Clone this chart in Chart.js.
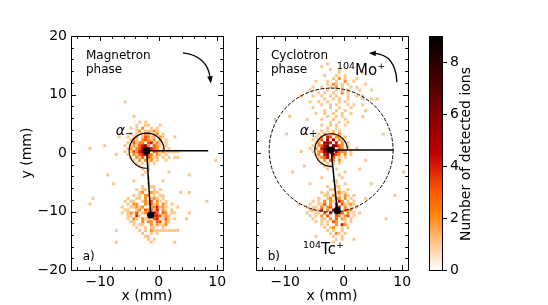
<!DOCTYPE html>
<html><head><meta charset="utf-8">
<script src="https://cdn.jsdelivr.net/npm/chart.js@4"></script>
<style>
html,body{margin:0;padding:0;background:#fff;width:548px;height:305px;overflow:hidden;position:relative}
canvas{position:absolute;top:0}
</style></head><body>
<canvas id="ca" width="240" height="305" style="left:0px"></canvas>
<canvas id="cb" width="184" height="305" style="left:236px"></canvas>
<canvas id="cc" width="128" height="305" style="left:420px"></canvas>
<script>
const FONT = '"DejaVu Sans", sans-serif';
const BIN = 0.5;
const VMAX = 9;
const X_RANGE = [-15, 11];
const Y_RANGE = [-20, 20];
const X_MAJOR = [-10, 0, 10];
const Y_MAJOR = [-20, -10, 0, 10, 20];
const CB_TICKS = [0, 2, 4, 6, 8];

// ---------- panel a (magnetron phase) ----------
const aCoreOrigin = [-6.5, 5.5];
const aCoreRows = [
  "......1.1...........",
  ".....1..11..........",
  "...1.1.2..1.1.......",
  ".....12.11121.......",
  "...1.1.122.12.1.....",
  "..1.12.13211.21.....",
  "...121.23212.2.1....",
  "..1.3122.34121.1....",
  ".1.1213452.321.1....",
  "..12.23565432.1.1...",
  ".1.1324687.321211111",
  "..1.2134532.21.1....",
  "...1.213.3211.1.1.11",
  "....1.2.212.1..1....",
  ".....1.1.1.1........",
  "......1..1..........",
  ".......1.1..........",
  "........1..........."
];
const aSpotOrigin = [-7.0, -5.0];
const aSpotRows = [
  "..........1..........",
  "........1..11........",
  "......1.11..1.1......",
  ".......12..211.......",
  ".....1.1.22.1.11.....",
  "...1..11.2.121.1.....",
  "..1.11..1213.21.1....",
  "...1.22..21312.21.1..",
  ".1..11212..224121....",
  "..11..12.32314.21.1..",
  ".1.1213.122.53.32.11.",
  "...11.41..22443121...",
  "...1.21.211.34.131.1.",
  "....11..2.22.33.21...",
  ".....1.11..2.2112....",
  "......1..1.11..1.....",
  ".......1.1.2111111111",
  "........1..1.1.......",
  ".........11..........",
  "..........1.1........",
  "...........1........."
];
const aStray = [
  [-5.9, 8.7, 1], [-11.9, 0.5, 1], [-9.5, 1.3, 1], [9.8, -1.1, 1], [-7.5, -0.3, 1],
  [-8.6, -3.6, 1], [-7.9, -5.5, 1], [-11.2, -8.0, 1], [-12.0, -8.7, 1], [8.2, -8.5, 1],
  [5.2, -6.9, 1], [-7.5, -13.3, 1], [-7.5, -15.2, 1], [2.8, -15.2, 1], [5.1, -3.6, 1],
  [3.8, -6.6, 1], [5.3, -10.3, 1], [4.8, -11.5, 1], [-2.6, -3.9, 1], [-1.6, -4.4, 1],
  [0.6, -4.6, 1], [-4.3, -4.9, 1], [1.6, -3.3, 1], [3.2, -9.4, 1], [-6.9, 2.7, 1],
  [-4.1, 6.2, 1], [0.3, 4.7, 1], [2.7, 2.6, 1]
];
const aCentre = [-2.06, 0.4];
const aSpot = [-1.38, -10.6];
const aRefEnd = [8.47, 0.4];
const aArcRadius = 3.0;

// ---------- panel b (cyclotron phase) ----------
const bCoreOrigin = [-6.5, 4.5];
const bCoreRows = [
  ".......1..1........",
  ".....1.1.1.1.......",
  "....1.2.12.2.......",
  "...1.2.43.22.1.....",
  "..1.13.5.5.21......",
  "...12.564.4.2.1....",
  "..1.2357.6532.1....",
  ".1.2.46885.32.1..1.",
  "..1.23679.5322.1...",
  "...12.45.532.2.1...",
  "....1235.3.1.1.....",
  "....1.2.32.2.......",
  ".....1.1.1.1.......",
  "......1.1..........",
  ".......1..1........"
];
const bMoOrigin = [-7.0, 15.5];
const bMoRows = [
  "........1...............",
  "......1.................",
  ".........1..1...........",
  "............1.......1...",
  ".......1...1..1.........",
  "..........1.2.1...1.....",
  "....1...1..1..2..1......",
  "........1.21.1.1.....1..",
  "...1..1..1.2.1..1.1.....",
  "..1.....1..1.1.1...1...1",
  ".....1.1..1..2.1........",
  "...1..1..1.1...1..1.1...",
  ".......1..1.1..1....1..1",
  "..1..1..1...1.1.........",
  "......1..1.1...1.1..1...",
  "...1.....1..1...1.......",
  ".......1...1..1......1..",
  "....1..1..1..1..1.......",
  "........1..1.1......1...",
  ".1....1...1...1.........",
  ".........1..1..1........",
  "......1..1.1..1........."
];
const bSpotOrigin = [-7.0, -4.0];
const bSpotRows = [
  ".............1........",
  "..........1...........",
  "...........1..1.......",
  "........1..11.........",
  ".........11.1..1......",
  "......1.1..1211.......",
  ".......11.2.1.21.1....",
  ".....1..12.22.2.1.....",
  "...1.1.2.21.42.1.1....",
  "..1..113.2.4.31121....",
  ".1.11.2.23.44.2.1.1...",
  "..12.14.2.55..322.....",
  ".1..11.3.4.543.2.1.1..",
  "..1.1.2.3..32.23.1....",
  "...1..11.2.3.21.1.....",
  "....1.1.1.32..1.1.....",
  "......1.1..2.42.......",
  ".......1.12..1.1......",
  "........1.1..1........",
  ".........1.21.1.......",
  "..........1..1........",
  "...........1.1........",
  "..........1..........."
];
const bStray = [
  [-12.0, 5.6, 1], [-10.0, 3.1, 1], [-7.3, 0.0, 1], [10.1, -3.2, 1], [8.5, -7.5, 1],
  [-8.9, -3.2, 1], [4.8, -5.5, 1], [-6.6, -2.4, 1], [-5.6, -5.4, 1], [2.6, -2.9, 1],
  [3.6, -1.4, 1], [-7.5, 9.6, 1], [6.8, 3.2, 1], [-7.9, -8.8, 1], [3.6, -7.9, 1],
  [-0.9, -3.8, 1], [-1.4, -4.6, 1], [0.2, -3.4, 1], [-3.6, -4.2, 1], [5.6, 9.1, 1],
  [-9.3, 6.2, 1], [7.3, -11.3, 1], [-4.7, -14.3, 1], [1.9, -14.8, 1]
];
const bCentre = [-2.15, 0.5];
const bSpot = [-1.1, -9.86];
const bRefEnd = [8.55, 0.5];
const bArcRadius = 2.8;
const bRingRadius = 10.6;

// ---------- helpers ----------
function cmap(v) { // matplotlib gist_heat_r, vmin 0, vmax VMAX
  const t = 1 - Math.max(0, Math.min(v, VMAX)) / VMAX;
  const cl = z => Math.max(0, Math.min(1, z));
  return 'rgb(' + Math.round(cl(1.5 * t) * 255) + ',' + Math.round(cl(2 * t - 1) * 255) + ',' + Math.round(cl(4 * t - 3) * 255) + ')';
}
function patchCells(origin, rows) {
  const out = [];
  rows.forEach((row, r) => {
    for (let c = 0; c < row.length; c++) {
      const ch = row[c];
      if (ch !== '.') out.push({x: origin[0] + BIN * (c + 0.5), y: origin[1] - BIN * (r + 0.5), n: Number(ch)});
    }
  });
  return out;
}
function strayCells(list) {
  return list.map(([x, y, n]) => ({x: (Math.floor(x / BIN) + 0.5) * BIN, y: (Math.floor(y / BIN) + 0.5) * BIN, n}));
}
const P = a => ({x: a[0], y: a[1]});
const fmt = v => String(v).replace('-', '\u2212');

const DECOR = {
  ca: {
    centre: aCentre, spot: aSpot, arcR: aArcRadius, ring: null,
    arrow: {from: [4.15, 17.1], ctrl: [8.3, 16.6], to: [8.93, 11.9]},
    texts: [
      {at: [-12.44, 16.15], parts: [{t: 'Magnetron', s: 12}]},
      {at: [-12.44, 13.76], parts: [{t: 'phase', s: 12}]},
      {at: [-13.0, -18.3], parts: [{t: 'a)', s: 12}]},
      {at: [-7.35, 3.08], parts: [{t: '\u03b1', s: 14, it: true}, {t: '\u2212', s: 10, dy: 2}]}
    ]
  },
  cb: {
    centre: bCentre, spot: bSpot, arcR: bArcRadius, ring: bRingRadius,
    arrow: {from: [9.1, 12.1], ctrl: [8.9, 16.8], to: [4.3, 17.1]},
    texts: [
      {at: [-12.44, 16.15], parts: [{t: 'Cyclotron', s: 12}]},
      {at: [-12.44, 13.76], parts: [{t: 'phase', s: 12}]},
      {at: [-13.0, -18.3], parts: [{t: 'b)', s: 12}]},
      {at: [-7.5, 3.08], parts: [{t: '\u03b1', s: 14, it: true}, {t: '+', s: 10, dy: 2}]},
      {at: [-1.15, 13.33], parts: [{t: '104', s: 9.5, dy: -6}, {t: 'Mo', s: 15}, {t: '+', s: 9.5, dy: -6}]},
      {at: [-6.97, -17.26], parts: [{t: '104', s: 9.5, dy: -6}, {t: 'Tc', s: 15}, {t: '+', s: 9.5, dy: -6}]}
    ]
  }
};

const panelDecor = {
  id: 'panelDecor',
  afterDraw(chart) {
    const d = DECOR[chart.canvas.id];
    if (!d) return;
    const {ctx, chartArea: a, scales: {x, y}} = chart;
    const px = p => ({x: x.getPixelForValue(p[0]), y: y.getPixelForValue(p[1])});
    const unit = Math.abs(x.getPixelForValue(1) - x.getPixelForValue(0));
    ctx.save();
    ctx.strokeStyle = '#000'; ctx.fillStyle = '#000';
    const c = px(d.centre), s = px(d.spot);
    if (d.ring) {
      ctx.save(); ctx.setLineDash([3.7, 1.6]); ctx.lineWidth = 1;
      ctx.beginPath(); ctx.arc(c.x, c.y, d.ring * unit, 0, Math.PI * 2); ctx.stroke(); ctx.restore();
    }
    const phi = Math.atan2(s.y - c.y, s.x - c.x);
    ctx.lineWidth = 1.1;
    ctx.beginPath(); ctx.arc(c.x, c.y, d.arcR * unit, 0, phi, true); ctx.stroke();
    const p0 = px(d.arrow.from), pc = px(d.arrow.ctrl), p1 = px(d.arrow.to);
    let dx = p1.x - pc.x, dy = p1.y - pc.y; const L = Math.hypot(dx, dy); dx /= L; dy /= L;
    const hl = 7, hw = 2.8;
    const base = {x: p1.x - dx * hl * 0.8, y: p1.y - dy * hl * 0.8};
    ctx.lineWidth = 1.3;
    ctx.beginPath(); ctx.moveTo(p0.x, p0.y); ctx.quadraticCurveTo(pc.x, pc.y, base.x, base.y); ctx.stroke();
    ctx.beginPath();
    ctx.moveTo(p1.x, p1.y);
    ctx.lineTo(p1.x - dx * hl - dy * hw, p1.y - dy * hl + dx * hw);
    ctx.lineTo(p1.x - dx * hl + dy * hw, p1.y - dy * hl - dx * hw);
    ctx.closePath(); ctx.fill();
    ctx.textBaseline = 'alphabetic'; ctx.textAlign = 'left';
    for (const t of d.texts) {
      const p = px(t.at); let cx = p.x;
      for (const part of t.parts) {
        ctx.font = (part.it ? 'italic ' : '') + part.s + 'px ' + FONT;
        ctx.fillText(part.t, cx, p.y + (part.dy || 0));
        cx += ctx.measureText(part.t).width;
      }
    }
    ctx.lineWidth = 1;
    const seg = (x1, y1, x2, y2) => { ctx.beginPath(); ctx.moveTo(x1, y1); ctx.lineTo(x2, y2); ctx.stroke(); };
    for (let v = -14; v <= 10; v += 2) {
      const L2 = X_MAJOR.includes(v) ? 4.9 : 2.8;
      const q = Math.round(x.getPixelForValue(v)) + 0.5;
      seg(q, a.bottom, q, a.bottom - L2); seg(q, a.top, q, a.top + L2);
    }
    for (let v = -18; v <= 18; v += 2) {
      const L2 = Y_MAJOR.includes(v) ? 4.9 : 2.8;
      const q = Math.round(y.getPixelForValue(v)) + 0.5;
      seg(a.left, q, a.left + L2, q); seg(a.right, q, a.right - L2, q);
    }
    ctx.strokeRect(Math.round(a.left) + 0.5, Math.round(a.top) + 0.5, Math.round(a.right - a.left), Math.round(a.bottom - a.top));
    ctx.restore();
  }
};

function makePanel(id, cells, centre, spot, refEnd, showY, padLeft, padRight) {
  const font = {family: FONT, size: 14};
  const radiusFn = ctx => {
    const sx = ctx.chart.scales.x;
    return Math.abs(sx.getPixelForValue(BIN) - sx.getPixelForValue(0)) / Math.SQRT2 + 0.07;
  };
  return new Chart(document.getElementById(id), {
    type: 'scatter',
    data: {datasets: [
      {data: [P(centre), P(spot)], showLine: true, borderColor: '#000', borderWidth: 1.5,
       pointRadius: 3.6, pointBackgroundColor: '#000', pointBorderWidth: 0, order: 0},
      {data: [P(centre), P(refEnd)], showLine: true, borderColor: '#000', borderWidth: 1.5,
       pointRadius: 0, order: 1},
      {data: cells, pointStyle: 'rect', pointRadius: radiusFn, pointBorderWidth: 0,
       pointBackgroundColor: ctx => cmap(ctx.raw ? ctx.raw.n : 0), order: 2}
    ]},
    options: {
      responsive: false, animation: false, events: [], devicePixelRatio: 1,
      layout: {padding: {left: padLeft, right: padRight, top: 36, bottom: 0}},
      plugins: {legend: {display: false}, tooltip: {enabled: false}},
      scales: {
        x: {type: 'linear', min: X_RANGE[0], max: X_RANGE[1],
            grid: {display: false, drawTicks: false}, border: {display: false},
            ticks: {font, color: '#000', padding: 4, maxRotation: 0, autoSkip: false, callback: fmt},
            afterBuildTicks: sc => { sc.ticks = X_MAJOR.map(v => ({value: v})); },
            title: {display: true, text: 'x (mm)', font, color: '#000', padding: {top: 0, bottom: 0}},
            afterFit: sc => { sc.height = 35; }},
        y: {type: 'linear', min: Y_RANGE[0], max: Y_RANGE[1], display: showY,
            grid: {display: false, drawTicks: false}, border: {display: false},
            ticks: {font, color: '#000', padding: 4, autoSkip: false, callback: fmt},
            afterBuildTicks: sc => { sc.ticks = Y_MAJOR.map(v => ({value: v})); },
            title: {display: true, text: 'y (mm)', font, color: '#000', padding: {top: 19, bottom: 0}},
            afterFit: sc => { sc.width = showY ? 71 : 0; }}
      }
    },
    plugins: [panelDecor]
  });
}

const cellsA = [...patchCells(aCoreOrigin, aCoreRows), ...patchCells(aSpotOrigin, aSpotRows), ...strayCells(aStray)];
const cellsB = [...patchCells(bMoOrigin, bMoRows), ...patchCells(bCoreOrigin, bCoreRows), ...patchCells(bSpotOrigin, bSpotRows), ...strayCells(bStray)];

makePanel('ca', cellsA, aCentre, aSpot, aRefEnd, true, 0, 17);
makePanel('cb', cellsB, bCentre, bSpot, bRefEnd, false, 20, 12);

// ---------- colour bar ----------
const colourBar = {
  id: 'colourBar',
  beforeDatasetsDraw(chart) {
    const {ctx, chartArea: a, scales: {y}} = chart;
    const g = ctx.createLinearGradient(0, y.getPixelForValue(0), 0, y.getPixelForValue(VMAX));
    for (let v = 0; v <= VMAX + 1e-9; v += 0.25) g.addColorStop(v / VMAX, cmap(v));
    ctx.save(); ctx.fillStyle = g; ctx.fillRect(a.left, a.top, a.right - a.left, a.bottom - a.top); ctx.restore();
  },
  afterDraw(chart) {
    const {ctx, chartArea: a} = chart;
    ctx.save();
    ctx.strokeStyle = '#000'; ctx.lineWidth = 1;
    ctx.strokeRect(Math.round(a.left) + 0.5, Math.round(a.top) + 0.5, Math.round(a.right - a.left), Math.round(a.bottom - a.top));
    ctx.translate(46, (a.top + a.bottom) / 2 + 1);
    ctx.rotate(-Math.PI / 2);
    ctx.fillStyle = '#000'; ctx.font = '14px ' + FONT; ctx.textAlign = 'center'; ctx.textBaseline = 'middle';
    ctx.fillText('Number of detected ions', 0, 0);
    ctx.restore();
  }
};
new Chart(document.getElementById('cc'), {
  type: 'scatter',
  data: {datasets: []},
  options: {
    responsive: false, animation: false, events: [], devicePixelRatio: 1,
    layout: {padding: {left: 9, right: 0, top: 36, bottom: 35}},
    plugins: {legend: {display: false}, tooltip: {enabled: false}},
    scales: {
      x: {type: 'linear', display: false, min: 0, max: 1},
      y: {type: 'linear', position: 'right', min: 0, max: VMAX,
          grid: {display: true, drawOnChartArea: false, drawTicks: true, tickLength: 5, color: '#000', lineWidth: 1},
          border: {display: false},
          ticks: {font: {family: FONT, size: 14}, color: '#000', padding: 3, autoSkip: false},
          afterBuildTicks: sc => { sc.ticks = CB_TICKS.map(v => ({value: v})); },
          afterFit: sc => { sc.width = 106; }}
    }
  },
  plugins: [colourBar]
});
</script>
</body></html>
